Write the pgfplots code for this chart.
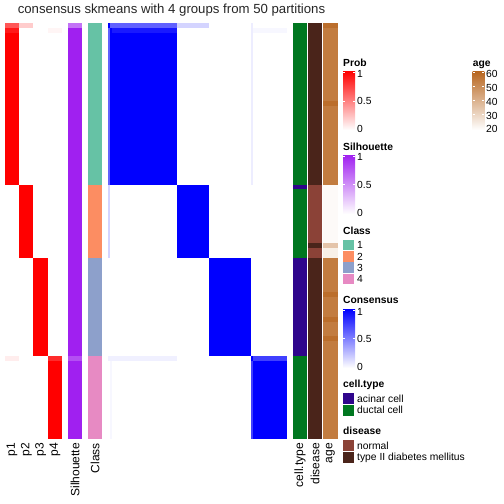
\documentclass[border=0pt]{standalone}
\usepackage{pgfplots}
\pgfplotsset{compat=1.18}
\usepackage{fontspec}
\setmainfont{Liberation Sans}
\definecolor{sil}{RGB}{160,32,240}
\definecolor{cl1}{HTML}{66C2A5}
\definecolor{cl2}{HTML}{FC8D62}
\definecolor{cl3}{HTML}{8DA0CB}
\definecolor{cl4}{HTML}{E78AC3}
\definecolor{acinar}{RGB}{47,5,140}
\definecolor{ductal}{RGB}{0,119,32}
\definecolor{normal}{RGB}{139,66,55}
\definecolor{tiid}{RGB}{74,36,26}
\definecolor{agec}{RGB}{183,101,30}
% \R{x0}{x1}{row0}{row1}{colour}   (rows counted from the top, 85 samples)
\newcommand{\R}[5]{\addplot[draw=none,fill=#5] coordinates {(#1,-#3) (#2,-#3) (#2,-#4) (#1,-#4)} -- cycle;}
\newcommand{\fs}[1]{\fontsize{#1}{#1}\selectfont}
\begin{document}
\begin{tikzpicture}
\path (0pt,0pt) rectangle (504pt,-504pt);
\begin{axis}[
  at={(5pt,-439pt)}, anchor=south west,
  scale only axis, width=333pt, height=416pt,
  xmin=5, xmax=338, ymin=-85, ymax=0,
  hide axis, clip=false]
% ---- membership probabilities p1..p4
\R{5}{19.25}{0}{1}{red!66!white}
\R{5}{19.25}{1}{2}{red!90!white}
\R{5}{19.25}{2}{33}{red}
\R{5}{19.25}{68}{69}{red!7!white}
\R{19.25}{33.5}{0}{1}{red!20!white}
\R{19.25}{33.5}{33}{48}{red}
\R{33.5}{47.75}{48}{68}{red}
\R{47.75}{62}{1}{2}{red!4!white}
\R{47.75}{62}{68}{69}{red!83!white}
\R{47.75}{62}{69}{85}{red}
% ---- silhouette
\R{68}{82}{0}{85}{sil}
\R{68}{82}{0}{1}{sil!63!white}
\R{68}{82}{68}{69}{sil!79!white}
% ---- class
\R{88}{102}{0}{33}{cl1}
\R{88}{102}{33}{48}{cl2}
\R{88}{102}{48}{68}{cl3}
\R{88}{102}{68}{85}{cl4}
% ---- consensus matrix (85 x 85)
\R{108}{177.494}{0}{33}{blue}
\R{177.494}{209.082}{33}{48}{blue}
\R{209.082}{251.2}{48}{68}{blue}
\R{251.2}{287}{68}{85}{blue}
\R{110.106}{177.494}{0}{1}{blue!62!white}
\R{108}{110.106}{1}{33}{blue!62!white}
\R{112.212}{177.494}{1}{2}{blue!90!white}
\R{177.494}{209.082}{0}{1}{blue!17!white}
\R{108}{110.106}{33}{48}{blue!17!white}
\R{251.2}{287}{1}{2}{blue!3!white}
\R{251.2}{253.306}{0}{33}{blue!7!white}
\R{108}{177.494}{68}{69}{blue!6!white}
\R{110.106}{112.212}{69}{85}{blue!3!white}
\R{253.306}{287}{68}{69}{blue!75!white}
\R{251.2}{253.306}{69}{85}{blue!75!white}
% ---- cell.type
\R{293}{307}{0}{85}{ductal}
\R{293}{307}{33}{34}{acinar}
\R{293}{307}{48}{68}{acinar}
% ---- disease
\R{308}{322}{0}{85}{tiid}
\R{308}{322}{33}{45}{normal}
\R{308}{322}{46}{48}{normal}
% ---- age (20 -> white, 60 -> agec)
\R{323}{338}{0}{85}{agec!85!white}
\R{323}{338}{0}{1}{agec!94!white}
\R{323}{338}{16}{17}{agec!94!white}
\R{323}{338}{55}{56}{agec!94!white}
\R{323}{338}{60}{61}{agec!94!white}
\R{323}{338}{64}{65}{agec!94!white}
\R{323}{338}{33}{45}{agec!3!white}
\R{323}{338}{45}{46}{agec!38!white}
\R{323}{338}{46}{48}{agec!10!white}
\end{axis}
\begin{scope}[x=1pt,y=1pt]
% title
\node[anchor=base, inner sep=0, font=\fs{13.2}, text=black!85] at (171.5,-13.5) {consensus skmeans with 4 groups from 50 partitions};
% column names
\foreach \x/\t in {12.1/p1, 26.4/p2, 40.6/p3, 54.9/p4, 75/Silhouette, 95/Class, 300/cell.type, 315/disease, 330.5/age}
  \node[rotate=90, anchor=east, inner sep=0, font=\fs{12}] at (\x,-443) {\t};
% ---- legends
\tikzset{lt/.style={anchor=base west, inner sep=0, font=\fs{10.3}\bfseries},
         ll/.style={anchor=base west, inner sep=0, font=\fs{10.3}}}
% Prob
\node[lt] at (343,-66) {Prob};
\shade[top color=red, bottom color=white] (343,-71) rectangle (355,-130);
\draw[white, line width=0.6pt] (343,-72.7)--(345,-72.7) (353,-72.7)--(355,-72.7) (343,-101)--(345,-101) (353,-101)--(355,-101);
\node[ll] at (357,-77.6) {1};
\node[ll] at (357,-104.6) {0.5};
\node[ll] at (357,-132.9) {0};
% Silhouette
\node[lt] at (343,-150.5) {Silhouette};
\shade[top color=sil, bottom color=white] (343,-155) rectangle (355,-214);
\draw[white, line width=0.6pt] (343,-156.5)--(345,-156.5) (353,-156.5)--(355,-156.5) (343,-184.5)--(345,-184.5) (353,-184.5)--(355,-184.5);
\node[ll] at (357,-160.9) {1};
\node[ll] at (357,-188.6) {0.5};
\node[ll] at (357,-216.3) {0};
% Class
\node[lt] at (343,-234.2) {Class};
\foreach \y/\c/\t in {239.7/cl1/1, 251/cl2/2, 262.3/cl3/3, 273.6/cl4/4}{
  \fill[\c] (343.3,-\y) rectangle (354.3,-\y-10.7);
  \node[ll] at (357,-\y-9) {\t};}
% Consensus
\node[lt] at (343,-303.3) {Consensus};
\shade[top color=blue, bottom color=white] (343,-309) rectangle (355,-368);
\draw[white, line width=0.6pt] (343,-310.5)--(345,-310.5) (353,-310.5)--(355,-310.5) (343,-338.5)--(345,-338.5) (353,-338.5)--(355,-338.5);
\node[ll] at (357,-315.3) {1};
\node[ll] at (357,-342.9) {0.5};
\node[ll] at (357,-370.3) {0};
% cell.type
\node[lt] at (343,-387.5) {cell.type};
\fill[acinar] (343.3,-393.3) rectangle (354.3,-404);
\fill[ductal] (343.3,-405) rectangle (354.3,-415.7);
\node[ll] at (357,-402.3) {acinar cell};
\node[ll] at (357,-413.9) {ductal cell};
% disease
\node[lt] at (343,-434.4) {disease};
\fill[normal] (343.3,-440.3) rectangle (354.3,-451);
\fill[tiid] (343.3,-452) rectangle (354.3,-462.7);
\node[ll] at (357,-449.3) {normal};
\node[ll] at (357,-460.9) {type II diabetes mellitus};
% age
\node[lt] at (472.7,-66) {age};
\shade[top color=agec, bottom color=white] (472.7,-71) rectangle (484.3,-130);
\foreach \y in {72.7,86.7,100.7,114.7}
  \draw[white, line width=0.6pt] (472.7,-\y)--(474.7,-\y) (482.3,-\y)--(484.3,-\y);
\node[ll] at (486,-77.6) {60};
\node[ll] at (486,-91.3) {50};
\node[ll] at (486,-105.3) {40};
\node[ll] at (486,-119.3) {30};
\node[ll] at (486,-132.9) {20};
\end{scope}
\end{tikzpicture}
\end{document}
